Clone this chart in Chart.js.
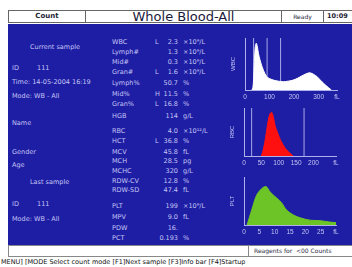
<!DOCTYPE html>
<html>
<head>
<meta charset="utf-8">
<script src="https://cdn.jsdelivr.net/npm/chart.js@4.4.1/dist/chart.umd.min.js"></script>
<style>
  body { margin: 0; width: 352px; height: 267px; background: #fff; position: relative; overflow: hidden; font-family: "DejaVu Sans", sans-serif; }
  .abs { position: absolute; white-space: nowrap; }
  .cell { position: absolute; top: 10px; height: 13px; border: 1px solid #666; box-sizing: border-box; text-align: center; color: #223; }
  #panel { position: absolute; left: 8px; top: 24px; width: 344px; height: 221px; background: #1e1ea4; }
  .t { position: absolute; white-space: nowrap; color: #c4c4f4; font-size: 6.5px; line-height: 8px; }
  .box { position: absolute; }
</style>
</head>
<body>
<div class="cell" style="left:8px;width:78px;font-size:7px;line-height:11px;font-weight:bold;">Count</div>
<div class="cell" style="left:85px;width:197px;font-size:13px;line-height:11px;color:#1a1a3a;">Whole Blood-All</div>
<div class="cell" style="left:281px;width:43px;font-size:6px;line-height:11px;">Ready</div>
<div class="cell" style="left:323px;width:32px;font-size:6.5px;line-height:11px;font-weight:bold;text-align:left;padding-left:3px;">10:09</div>
<div id="panel"></div>
<div id="txt"></div>
<div class="abs" style="left:8px;top:245px;width:346px;height:12px;border:1px solid #888;box-sizing:border-box;"></div>
<div class="abs" style="left:248px;top:245px;width:1px;height:12px;background:#888;"></div>
<div class="abs" style="left:254px;top:247px;font-size:6px;color:#2a2a44;">Reagents for&nbsp;&nbsp;&lt;00 Counts</div>
<div class="abs" style="left:1px;top:258px;font-size:6.5px;color:#111;">MENU] [MODE Select count mode [F1]Next sample [F3]Info bar [F4]Startup</div>
<div class="box" style="left:228px;top:34px;width:118px;height:68px;"><canvas id="wbc"></canvas></div>
<div class="box" style="left:227px;top:104px;width:118px;height:65px;"><canvas id="rbc"></canvas></div>
<div class="box" style="left:227px;top:173px;width:118px;height:65px;"><canvas id="plt"></canvas></div>
<script>
// sample info (left column)
const leftLabels = ["Current sample", "ID", "Time: 14-05-2004 16:19", "Mode: WB - All", "Name", "Gender", "Age", "Last sample", "ID", "Mode: WB - All"];
const leftX = [30, 12, 12, 12, 12, 12, 12, 30, 12, 12];
const leftY = [47, 68, 82, 96, 123, 152, 165, 182, 204, 219];

// parameters
const params = ["WBC", "Lymph#", "Mid#", "Gran#", "Lymph%", "Mid%", "Gran%", "HGB", "RBC", "HCT", "MCV", "MCH", "MCHC", "RDW-CV", "RDW-SD", "PLT", "MPV", "PDW", "PCT"];
const flags = ["L", "", "", "L", "", "H", "L", "", "", "L", "", "", "", "", "", "", "", "", ""];
const values = ["2.3", "1.3", "0.3", "1.6", "50.7", "11.5", "16.8", "114", "4.0", "36.8", "45.8", "28.5", "320", "12.8", "47.4", "199", "9.0", "16.", "0.193"];
const units = ["×10⁹/L", "×10⁹/L", "×10⁹/L", "×10⁹/L", "%", "%", "%", "g/L", "×10¹²/L", "%", "fL", "pg", "g/L", "%", "fL", "×10⁹/L", "fL", "", "%"];
const paramY = [42, 52, 62, 72, 83, 94, 104, 116, 131, 141, 152, 161, 171, 181, 190, 206, 217, 228, 238];

// histograms
const wbcX = [28, 32, 35, 38, 42, 46, 50, 55, 61, 68, 75, 88, 100, 116, 136, 156, 176, 196, 216, 231, 248, 265, 280, 293, 307, 320, 334, 347, 352];
const wbcY = [0, 4, 20, 55, 84, 90, 84, 70, 58, 47, 38, 26, 22, 19, 17, 16, 17, 19, 23, 27, 31, 33, 30, 26, 19, 13, 7, 2, 0];
const wbcMarks = [35, 90, 145];
const wbcTicks = [0, 100, 200, 300, 375];

const rbcX = [50, 55, 60, 65, 70, 75, 80, 85, 90, 99, 106, 113, 120, 128, 135, 142];
const rbcY = [0, 12, 29, 52, 75, 88, 91, 80, 62, 44, 32, 23, 15, 9, 4, 0];
const rbcMarks = [22, 173];
const rbcTicks = [0, 50, 100, 150, 200, 265];

const pltX = [1, 2.5, 4.1, 5.8, 7.2, 8.5, 10.7, 12.3, 13.9, 16.1, 18.3, 21.5, 24.8, 28, 30];
const pltY = [0, 31, 62, 76, 80, 69, 56, 46, 31, 21, 15, 10, 9, 6, 5];
const pltMarks = [];
const pltTicks = [0, 5, 10, 15, 20, 25, 30];

const txtColor = "#c4c4f4";
const txt = document.getElementById("txt");
function put(s, x, y, align) {
  const d = document.createElement("div");
  d.className = "t";
  d.textContent = s;
  d.style.top = (y - 4) + "px";
  if (align === "right") { d.style.right = (352 - x) + "px"; } else { d.style.left = x + "px"; }
  txt.appendChild(d);
}
leftLabels.forEach((s, i) => put(s, leftX[i], leftY[i]));
put("111", 37, 68);
put("111", 37, 204);
params.forEach((p, i) => {
  put(p, 112, paramY[i]);
  put(flags[i], 155, paramY[i]);
  put(values[i], 178, paramY[i], "right");
  put(units[i], 183, paramY[i]);
});

function hist(id, xs, ys, marks, ticks, color, name, bottom) {
  const max = ticks[ticks.length - 1];
  const sets = [{
    data: xs.map((x, i) => ({ x: x, y: ys[i] })),
    fill: "origin",
    backgroundColor: color,
    borderColor: color,
    borderWidth: 1,
    pointRadius: 0,
    tension: 0.3,
    order: 1
  }];
  marks.forEach(m => sets.push({
    data: [{ x: m, y: 0 }, { x: m, y: 100 }],
    borderColor: "#a8a8e8",
    borderWidth: 1,
    pointRadius: 0,
    fill: false,
    order: 2
  }));
  return new Chart(document.getElementById(id), {
    type: "line",
    data: { datasets: sets },
    options: {
      responsive: false,
      maintainAspectRatio: false,
      animation: false,
      layout: { padding: { top: 4, right: 9, left: 0, bottom: 0 } },
      plugins: { legend: { display: false }, tooltip: { enabled: false } },
      scales: {
        x: {
          type: "linear", min: 0, max: max,
          afterBuildTicks: s => { s.ticks = ticks.map(v => ({ value: v })); },
          afterFit: s => { s.height = bottom; },
          grid: { display: false, drawTicks: false },
          border: { color: "#b0b0ec", width: 1 },
          ticks: { color: txtColor, font: { size: 6.5 }, padding: 3, maxRotation: 0, autoSkip: false,
                   callback: v => v === max ? "fL" : v }
        },
        y: {
          min: 0, max: 100,
          afterFit: s => { s.width = 17; },
          grid: { display: false, drawTicks: false },
          border: { color: "#b0b0ec", width: 1 },
          ticks: { display: false },
          title: { display: true, text: name, color: txtColor, font: { size: 6 }, padding: 2 }
        }
      }
    }
  });
}

const c1 = document.getElementById("wbc"); c1.width = 118; c1.height = 68;
const c2 = document.getElementById("rbc"); c2.width = 118; c2.height = 65;
const c3 = document.getElementById("plt"); c3.width = 118; c3.height = 65;
hist("wbc", wbcX, wbcY, wbcMarks, wbcTicks, "#ffffff", "WBC", 12);
hist("rbc", rbcX, rbcY, rbcMarks, rbcTicks, "#ff1010", "RBC", 13);
hist("plt", pltX, pltY, pltMarks, pltTicks, "#6cc426", "PLT", 13);
</script>
</body>
</html>
